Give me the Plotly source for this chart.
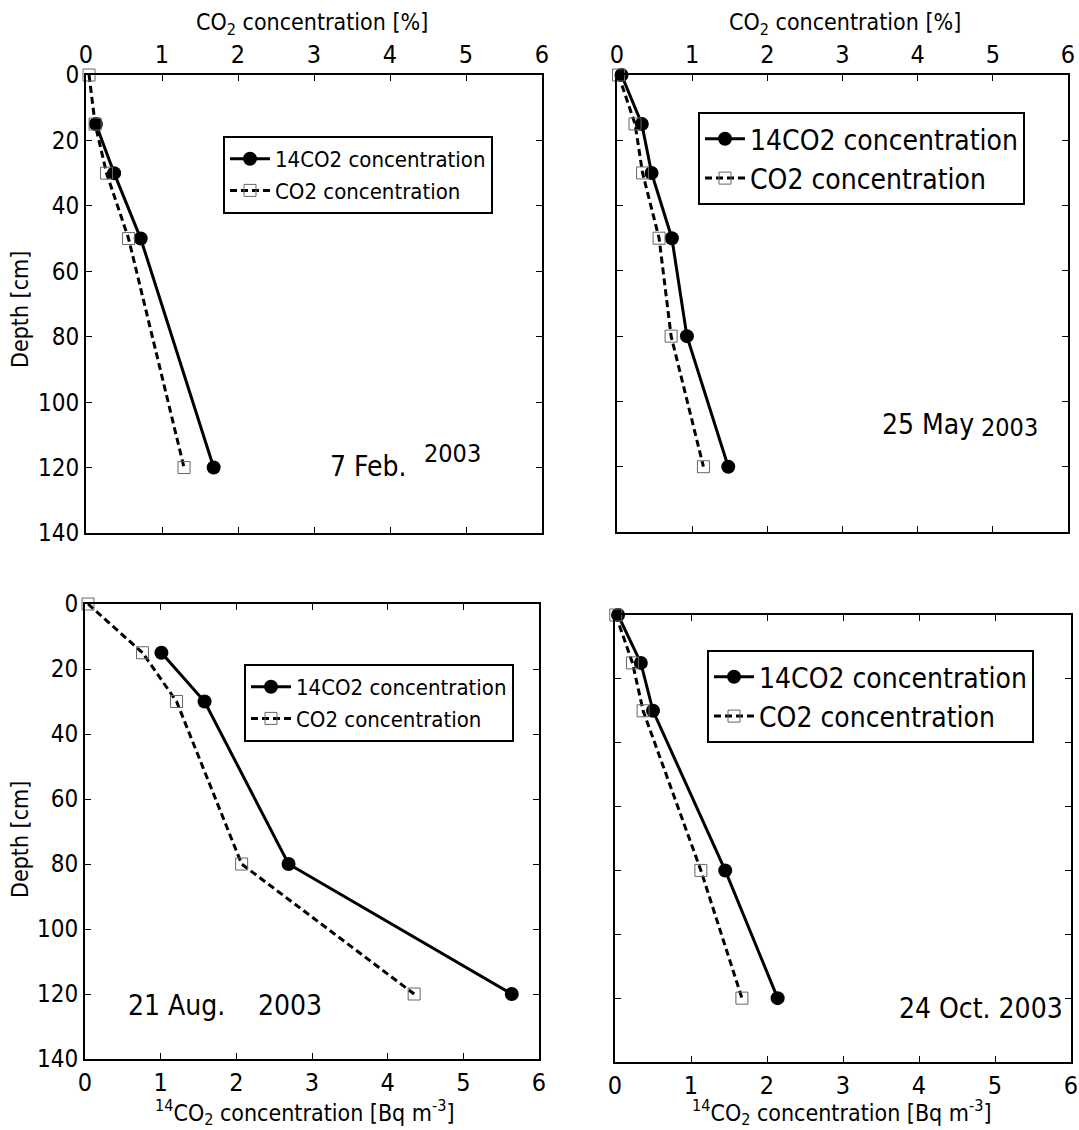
import plotly.graph_objects as go

W, H = 1079, 1130
FONT = "DejaVu Sans Condensed, DejaVu Sans, sans-serif"

# ---- data ----
feb_depth_14 = [15, 30, 50, 120]
feb_c14 = [0.13, 0.37, 0.72, 1.68]
feb_depth_co2 = [0, 15, 30, 50, 120]
feb_co2 = [0.04, 0.12, 0.27, 0.56, 1.29]

may_depth = [0, 15, 30, 50, 80, 120]
may_c14 = [0.06, 0.33, 0.46, 0.73, 0.93, 1.48]
may_co2 = [0.02, 0.24, 0.34, 0.56, 0.72, 1.15]

aug_depth_14 = [15, 30, 80, 120]
aug_c14 = [1.01, 1.58, 2.69, 5.64]
aug_depth_co2 = [0, 15, 30, 80, 120]
aug_co2 = [0.04, 0.76, 1.21, 2.07, 4.35]

oct_depth = [0, 15, 30, 80, 120]
oct_c14 = [0.04, 0.34, 0.50, 1.45, 2.14]
oct_co2 = [0.01, 0.23, 0.37, 1.13, 1.67]

x_ticks = [0, 1, 2, 3, 4, 5, 6]
y_ticks = [0, 20, 40, 60, 80, 100, 120, 140]
name_14 = "14CO2 concentration"
name_co2 = "CO2 concentration"

def px(x):
    return x / W

def py(y):
    return 1 - y / H

# panel boxes in pixels: (left, right, top, bottom)
panels = [
    (86, 542, 75, 533),
    (617, 1068, 75, 532),
    (85, 539, 604, 1059),
    (615, 1071, 615, 1062),
]

fig = go.Figure()

series = [
    (feb_depth_14, feb_c14, feb_depth_co2, feb_co2),
    (may_depth, may_c14, may_depth, may_co2),
    (aug_depth_14, aug_c14, aug_depth_co2, aug_co2),
    (oct_depth, oct_c14, oct_depth, oct_co2),
]

legend_names = ["legend", "legend2", "legend3", "legend4"]

for i, (d14, c14, dco2, co2) in enumerate(series):
    xa = "x" if i == 0 else f"x{i+1}"
    ya = "y" if i == 0 else f"y{i+1}"
    fig.add_trace(go.Scatter(
        x=c14, y=d14, xaxis=xa, yaxis=ya, name=name_14, mode="lines+markers",
        line=dict(color="black", width=3),
        marker=dict(symbol="circle", size=14, color="black"),
        cliponaxis=False, legend=legend_names[i]))
    fig.add_trace(go.Scatter(
        x=co2, y=dco2, xaxis=xa, yaxis=ya, name=name_co2, mode="lines+markers",
        line=dict(color="black", width=3, dash="7px,4px"),
        marker=dict(symbol="square-open", size=12, color="#666666", line=dict(width=1)),
        cliponaxis=False, legend=legend_names[i]))

layout = dict(
    width=W, height=H, margin=dict(l=0, r=0, t=0, b=0, autoexpand=False),
    paper_bgcolor="white", plot_bgcolor="white",
    font=dict(family=FONT, size=24, color="black"),
)

for i, (l, r, t, b) in enumerate(panels):
    sx = "xaxis" if i == 0 else f"xaxis{i+1}"
    sy = "yaxis" if i == 0 else f"yaxis{i+1}"
    ya = "y" if i == 0 else f"y{i+1}"
    xa = "x" if i == 0 else f"x{i+1}"
    top = i < 2
    layout[sx] = dict(
        domain=[px(l), px(r)], anchor=ya, range=[0, 6], tickvals=x_ticks,
        side="top" if top else "bottom", showline=True, linecolor="black", linewidth=2,
        mirror="ticks", ticks="inside", ticklen=6, tickwidth=1, tickcolor="black",
        showgrid=False, zeroline=False, tickfont=dict(size=25), fixedrange=True,
        automargin=False)
    layout[sy] = dict(
        domain=[py(b), py(t)], anchor=xa, range=[140, 0], tickvals=y_ticks,
        showticklabels=(i % 2 == 0), showline=True, linecolor="black", linewidth=2,
        mirror="ticks", ticks="inside", ticklen=6, tickwidth=1, tickcolor="black",
        showgrid=False, zeroline=False, tickfont=dict(size=24), fixedrange=True,
        automargin=False)

# legends (x, y of top-left corner in px, font size)
leg_pos = [(223, 136, 22), (698, 112, 28), (244, 664, 22), (707, 650, 28)]
for name, (lx, ly, fs) in zip(legend_names, leg_pos):
    layout[name] = dict(
        x=px(lx), y=py(ly), xanchor="left", yanchor="top", xref="paper", yref="paper",
        bgcolor="white", bordercolor="black", borderwidth=2,
        font=dict(size=fs, family=FONT), tracegroupgap=0, itemwidth=40)

fig.update_layout(**layout)

anns = []
def ann(text, x, y, size, **kw):
    anns.append(dict(text=text, x=px(x), y=py(y), xref="paper", yref="paper",
                     xanchor="center", yanchor="middle",
                     showarrow=False, font=dict(size=size, family=FONT, color="black"), **kw))

top_title = "CO<sub>2</sub> concentration [%]"
bot_title = "<sup>14</sup>CO<sub>2</sub> concentration [Bq m<sup>-3</sup>]"
ann(top_title, 312, 24, 23)
ann(top_title, 845, 24, 23)
ann(bot_title, 305, 1112, 23)
ann(bot_title, 842, 1112, 23)
ann("Depth [cm]", 20, 310, 23, textangle=-90)
ann("Depth [cm]", 20, 840, 23, textangle=-90)

ann("7 Feb.", 368, 466, 28)
ann("2003", 452, 453, 25)
ann("25 May", 928, 424, 28)
ann("2003", 1009, 427, 25)
ann("21 Aug.", 176, 1005, 28)
ann("2003", 290, 1005, 28)
ann("24 Oct. 2003", 981, 1008, 28)

fig.update_layout(annotations=anns)
fig.write_html(
    "out.html",
    config={"displayModeBar": False},
    post_script="document.body.style.margin='0';document.body.style.overflow='hidden';",
)
